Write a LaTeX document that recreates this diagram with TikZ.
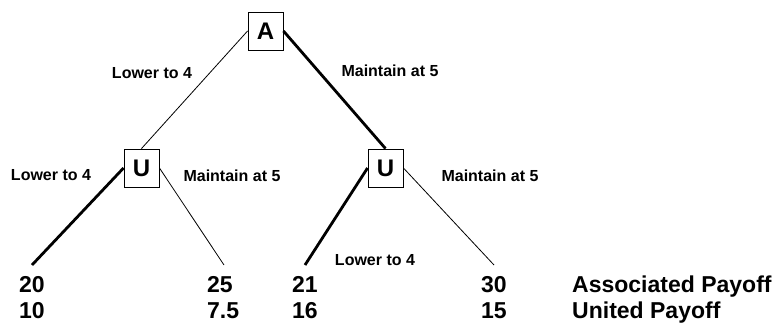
\documentclass[tikz,border=0pt]{standalone}
\usepackage{fontspec}
\setmainfont{Liberation Sans}
\begin{document}
\begin{tikzpicture}[x=1pt,y=-1pt,
  player/.style={draw,line width=0.9pt,minimum width=35pt,minimum height=38pt,inner sep=0pt,
    font=\fontsize{24}{26}\selectfont\bfseries},
  thin/.style={line width=0.8pt},
  thick/.style={line width=2.8pt},
  move/.style={inner sep=0pt,font=\fontsize{16}{18}\selectfont\bfseries},
  payoff/.style={inner sep=0pt,anchor=base west,font=\fontsize{23}{25}\selectfont\bfseries}]
\useasboundingbox (0,0) rectangle (777,322);

% decision nodes
\node[player] (A) at (265.5,31) {A};
\node[player] (U1) at (141.5,168) {U};
\node[player] (U2) at (385.5,168) {U};

% terminal points
\coordinate (L1) at (32,265);
\coordinate (L2) at (224,265);
\coordinate (L3) at (305,265);
\coordinate (L4) at (494,265);

% branches (thick = chosen move)
\draw[thin] (A.west) -- (U1.north);
\draw[thick] (A.east) -- (U2.north);
\draw[thick] (U1.west) -- (L1);
\draw[thin] (U1.east) -- (L2);
\draw[thick] (U2.west) -- (L3);
\draw[thin] (U2.east) -- (L4);

% move labels
\node[move] (m1) at (152,73) {Lower to 4};
\node[move] (m2) at (390,71) {Maintain at 5};
\node[move] (m3) at (51,175) {Lower to 4};
\node[move] (m4) at (232,176) {Maintain at 5};
\node[move] (m5) at (375,260) {Lower to 4};
\node[move] (m6) at (490,176) {Maintain at 5};

% payoffs
\node[payoff] (p1a) at (19,292) {20};
\node[payoff] (p1b) at (19,318) {10};
\node[payoff] (p2a) at (207,292) {25};
\node[payoff] (p2b) at (207,318) {7.5};
\node[payoff] (p3a) at (292,292) {21};
\node[payoff] (p3b) at (292,318) {16};
\node[payoff] (p4a) at (481,292) {30};
\node[payoff] (p4b) at (481,318) {15};
\node[payoff] (r1) at (572,292) {Associated Payoff};
\node[payoff] (r2) at (572,318) {United Payoff};
\end{tikzpicture}
\end{document}
